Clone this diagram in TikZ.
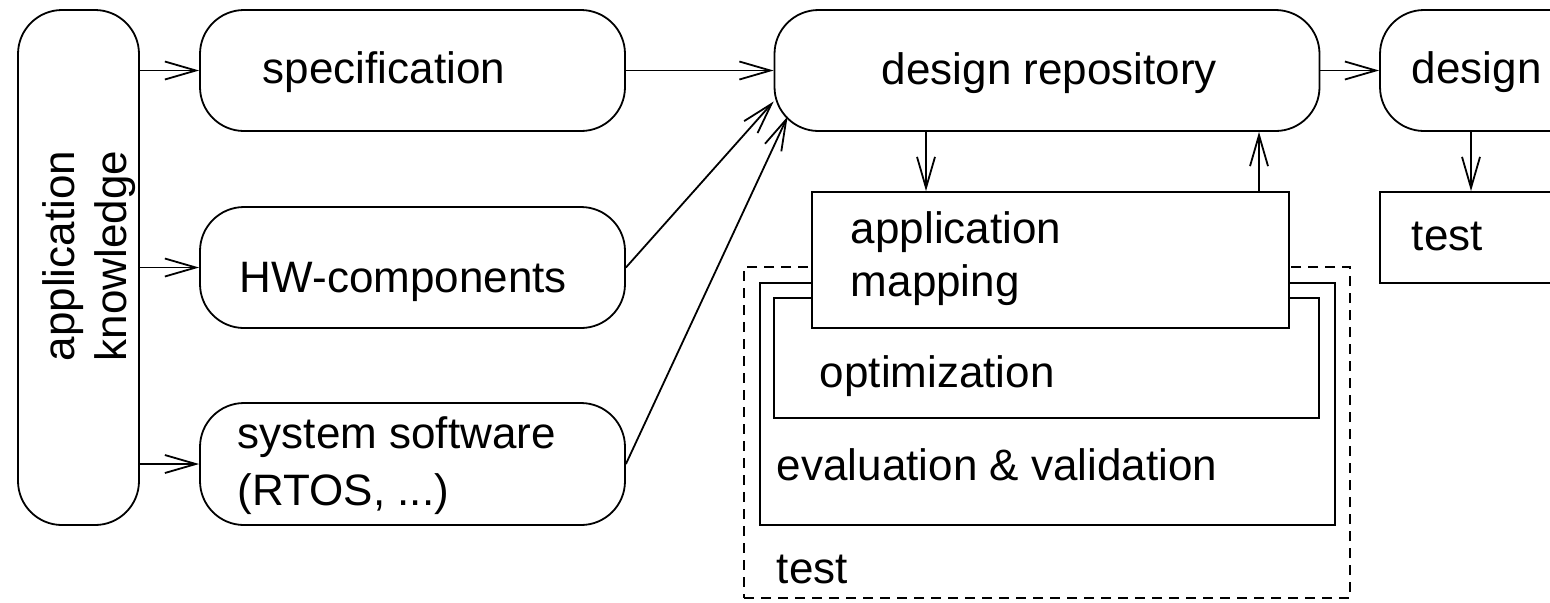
\documentclass[tikz,border=0pt]{standalone}
\usepackage{fontspec}
\setmainfont{Liberation Sans}
\usetikzlibrary{arrows.meta}
\tikzset{>={Straight Barb[length=15.5pt,width=9pt]}}
\tikzset{
  roundbox/.style={draw, rounded corners=22pt, inner sep=0pt},
  plainbox/.style={draw, fill=white, inner sep=0pt},
  boxtext/.style={anchor=base west, inner sep=0pt},
}

\begin{document}
\begin{tikzpicture}[x=0.5pt,y=-0.5pt,line width=0.9pt,font=\fontsize{22}{26}\selectfont]
    \clip (0,0) rectangle (1550,602);
    % left column
    \node[roundbox,minimum width=60.5pt,minimum height=257.5pt] (know) at (78.5,267.5) {};
    \node[rotate=90,align=center,inner sep=0pt] (knowtxt) at (89,256) {application\\knowledge};
    \node[roundbox,minimum width=212.5pt,minimum height=60.5pt] (spec) at (412.5,70.5) {};
    \node[roundbox,minimum width=212.5pt,minimum height=60.5pt] (hw) at (412.5,267.5) {};
    \node[roundbox,minimum width=212.5pt,minimum height=61pt] (sys) at (412.5,464) {};
    \node[boxtext] (spectxt) at (262,83) {specification};
    \node[boxtext] (hwtxt) at (239,292) {HW-components};
    \node[boxtext] (systxt) at (237,448) {system software};
    \node[boxtext] (rtostxt) at (237,505) {(RTOS, ...)};
    % repository and design
    \node[roundbox,minimum width=272.5pt,minimum height=60.5pt] (repo) at (1047,70.5) {};
    \node[boxtext] (repotxt) at (881,84) {design repository};
    \node[roundbox,minimum width=135pt,minimum height=60.5pt] (design) at (1515,70.5) {};
    \node[boxtext] (designtxt) at (1411,83) {design};
    \node[plainbox,minimum width=135pt,minimum height=45.5pt] (dtest) at (1515,237.5) {};
    \node[boxtext] (dtesttxt) at (1411,250) {test};
    % nested test boxes
    \node[draw,dashed,dash pattern=on 5pt off 3.5pt,inner sep=0pt,minimum width=303pt,minimum height=165.5pt] (test) at (1047,432.5) {};
    \node[plainbox,minimum width=287.5pt,minimum height=121pt] (eval) at (1047.5,404) {};
    \node[plainbox,minimum width=272.5pt,minimum height=60pt] (opt) at (1046.5,358) {};
    \node[plainbox,minimum width=238.5pt,minimum height=68pt] (map) at (1050.5,260) {};
    \node[boxtext] (maptxt) at (850,243) {application};
    \node[boxtext] (maptxtb) at (850,296) {mapping};
    \node[boxtext] (opttxt) at (819,387) {optimization};
    \node[boxtext] (evaltxt) at (776,480) {evaluation \& validation};
    \node[boxtext] (testtxt) at (776,583) {test};
    % arrows
    \draw[->] (know.east |- spec.west) -- (spec.west);
    \draw[->] (know.east |- hw.west) -- (hw.west);
    \draw[->] (know.east |- sys.west) -- (sys.west);
    \draw[->] (spec.east) -- (repo.west);
    \draw[->] (hw.east) -- ([yshift=-15.5pt]repo.west);
    \draw[->] (sys.east) -- ([xshift=7pt,yshift=-23pt]repo.west);
    \draw[->] (repo.east) -- (design.west);
    \coordinate (dn) at (926,0);
    \coordinate (up) at (1259,0);
    \coordinate (dd) at (1471,0);
    \draw[->] (repo.south -| dn) -- (map.north -| dn);
    \draw[->] (map.north -| up) -- (repo.south -| up);
    \draw[->] (design.south -| dd) -- (dtest.north -| dd);
\end{tikzpicture}
\end{document}
